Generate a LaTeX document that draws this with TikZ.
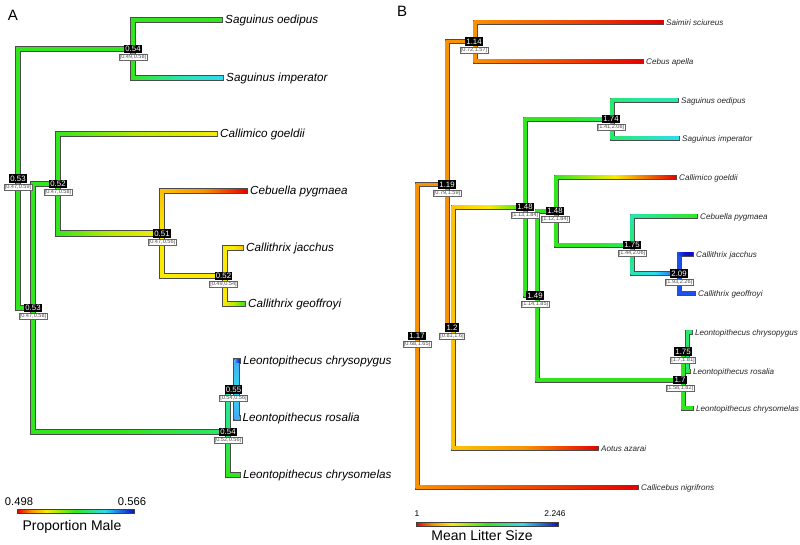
\documentclass[tikz,border=0pt]{standalone}
\usepackage{fontspec}
\setmainfont{Liberation Sans}
\usetikzlibrary{calc,positioning}
\pgfdeclarelayer{back}
\pgfdeclarelayer{bg}
\pgfsetlayers{back,bg,main}
\definecolor{cR}{RGB}{228,0,0}
\definecolor{cRO}{RGB}{240,75,0}
\definecolor{cO}{RGB}{250,145,0}
\definecolor{cYO}{RGB}{252,195,0}
\definecolor{cY}{RGB}{250,235,0}
\definecolor{cYG}{RGB}{180,235,0}
\definecolor{cG}{RGB}{50,230,30}
\definecolor{cGT}{RGB}{40,232,110}
\definecolor{cT}{RGB}{40,230,170}
\definecolor{cC}{RGB}{45,220,240}
\definecolor{cLB}{RGB}{70,170,245}
\definecolor{cB}{RGB}{30,80,235}
\definecolor{cDB}{RGB}{15,15,200}
\definecolor{cOut}{RGB}{75,75,75}
\pgfdeclarehorizontalshading{rainbow}{100bp}{color(0bp)=(cR); color(25bp)=(cR); color(31bp)=(cO); color(37.5bp)=(cY); color(50bp)=(cG); color(62.5bp)=(cC); color(75bp)=(cDB); color(100bp)=(cDB)}
\newcommand\hw{1.8}
% branch to a child above the parent
\newcommand\bu[6]{%
  \begin{pgfonlayer}{bg}\draw[brout] (#1) |- (#2);\end{pgfonlayer}
  \shade[bottom color=#3,top color=#4] ($(#1)+(-\hw,0)$) rectangle ($(#1|-#2)+(\hw,0)$);
  \shade[left color=#4,right color=#6,middle color=#5] ($(#1|-#2)+(-\hw,-\hw)$) rectangle ($(#2)+(0,\hw)$);
}
% branch to a child below the parent
\newcommand\bd[6]{%
  \begin{pgfonlayer}{bg}\draw[brout] (#1) |- (#2);\end{pgfonlayer}
  \shade[top color=#3,bottom color=#4] ($(#1)+(-\hw,0)$) rectangle ($(#1|-#2)+(\hw,0)$);
  \shade[left color=#4,right color=#6,middle color=#5] ($(#1|-#2)+(-\hw,-\hw)$) rectangle ($(#2)+(0,\hw)$);
}
\newcommand\lab[5]{%
  \node[vbox] (#1v) at ($(#2)+(#5,0)$) {#3};
  \node[ibox,below=0.6pt of #1v] (#1i) {#4};
}
\begin{document}
\begin{tikzpicture}[x=1pt,y=-1pt,
  vbox/.style={fill=black,text=white,font=\fontsize{7.8}{8}\selectfont,inner xsep=1.3pt,inner ysep=1.4pt,text height=5.7pt,text depth=0pt},
  ibox/.style={fill=white,draw=black!60,line width=0.5pt,text=black!70,font=\fontsize{5.6}{6}\selectfont,inner xsep=1pt,inner ysep=0.6pt,text height=4pt,text depth=1.1pt},
  tipA/.style={anchor=west,inner sep=0pt,font=\fontsize{11.7}{12}\selectfont\itshape,text height=0.72em,text depth=0pt},
  tipB/.style={anchor=west,inner sep=0pt,text=black!85,font=\fontsize{8.1}{9}\selectfont\itshape,text height=0.72em,text depth=0pt},
  legnum/.style={inner sep=0pt},
  legtitle/.style={inner sep=0pt,font=\fontsize{14}{15}\selectfont}]
\useasboundingbox (0,0) rectangle (800,544);
\begin{pgfonlayer}{back}\fill[white] (0,0) rectangle (800,544);\end{pgfonlayer}

% ================= Panel A =================
\node[inner sep=0pt,font=\fontsize{15}{15}\selectfont] (panA) at (13,15) {A};
\coordinate (a053) at (18,178.5);
\coordinate (a054s) at (133,49);
\coordinate (Aoed) at (222,20);
\coordinate (Aimp) at (223,78);
\coordinate (a053l) at (33,308);
\coordinate (a052) at (58,184);
\coordinate (Acal) at (217,134);
\coordinate (a051) at (162,233.5);
\coordinate (Aceb) at (247,191);
\coordinate (a052c) at (225,276);
\coordinate (Ajac) at (243,248);
\coordinate (Ageo) at (245,304);
\coordinate (a054l) at (228,432);
\coordinate (a055) at (236.5,389.5);
\coordinate (Acpy) at (240,361);
\coordinate (Aros) at (239.5,418);
\coordinate (Acme) at (240,475);

\renewcommand\hw{1.8}
\tikzset{brout/.style={draw=cOut,line width=6.2pt,line cap=rect,line join=miter,shorten >=1.7pt}}
\bu{a053}{a054s}{cG}{cG}{cG}{cG}
\bd{a053}{a053l}{cG}{cG}{cG}{cG}
\bu{a054s}{Aoed}{cG}{cG}{cG}{cG}
\bd{a054s}{Aimp}{cG}{cG}{cT}{cC}
\bu{a053l}{a052}{cG}{cG}{cG}{cG}
\bd{a053l}{a054l}{cG}{cG}{cG}{cGT}
\bu{a052}{Acal}{cG}{cG}{cYG}{cY}
\bd{a052}{a051}{cG}{cG}{cYG}{cY}
\bu{a051}{Aceb}{cY}{cYO}{cO}{cR}
\bd{a051}{a052c}{cY}{cY}{cY}{cY}
\bu{a052c}{Ajac}{cY}{cY}{cY}{cYO}
\bd{a052c}{Ageo}{cY}{cY}{cYG}{cG}
\bu{a054l}{a055}{cGT}{cT}{cT}{cC}
\bd{a054l}{Acme}{cGT}{cG}{cG}{cG}
\bu{a055}{Acpy}{cC}{cLB}{cB}{cDB}
\bd{a055}{Aros}{cC}{cLB}{cLB}{cLB}

\lab{la053}{a053}{0.53}{[0.47,0.59]}{0}
\lab{la054s}{a054s}{0.54}{[0.49,0.58]}{0}
\lab{la053l}{a053l}{0.53}{[0.47,0.58]}{0}
\lab{la052}{a052}{0.52}{[0.47,0.58]}{0}
\lab{la051}{a051}{0.51}{[0.47,0.56]}{0}
\lab{la052c}{a052c}{0.52}{[0.49,0.54]}{-1.5}
\lab{la055}{a055}{0.55}{[0.54,0.56]}{-3}
\lab{la054l}{a054l}{0.54}{[0.52,0.56]}{0}

\node[tipA] (tAoed) at ($(Aoed)+(3,0)$) {Saguinus oedipus};
\node[tipA] (tAimp) at ($(Aimp)+(3,0)$) {Saguinus imperator};
\node[tipA] (tAcal) at ($(Acal)+(3,0)$) {Callimico goeldii};
\node[tipA] (tAceb) at ($(Aceb)+(3,0)$) {Cebuella pygmaea};
\node[tipA] (tAjac) at ($(Ajac)+(3,0)$) {Callithrix jacchus};
\node[tipA] (tAgeo) at ($(Ageo)+(3,0)$) {Callithrix geoffroyi};
\node[tipA] (tAcpy) at ($(Acpy)+(3,0)$) {Leontopithecus chrysopygus};
\node[tipA] (tAros) at ($(Aros)+(3,0)$) {Leontopithecus rosalia};
\node[tipA] (tAcme) at ($(Acme)+(3,0)$) {Leontopithecus chrysomelas};

% legend A
\shade[shading=rainbow] (17,509) rectangle (134,513);
\draw[black!75,line width=0.5pt] (17,509) rectangle (134,513);
\node[legnum,font=\fontsize{11.2}{12}\selectfont] (legA0) at (19,502) {0.498};
\node[legnum,font=\fontsize{11.2}{12}\selectfont] (legA1) at (132,502) {0.566};
\node[legtitle] (legAt) at (72,527) {Proportion Male};

% ================= Panel B =================
\node[inner sep=0pt,font=\fontsize{15}{15}\selectfont] (panB) at (402,11) {B};
\coordinate (n117) at (417,335.75);
\coordinate (n119) at (447,184.5);
\coordinate (n114) at (475,41.5);
\coordinate (Bsai) at (663,22);
\coordinate (Bceb) at (643,61);
\coordinate (n12) at (453,327.5);
\coordinate (n148a) at (525,207);
\coordinate (n174) at (612,119);
\coordinate (Boed) at (678,100);
\coordinate (Bimp) at (679,138);
\coordinate (n149) at (537,295.5);
\coordinate (n148b) at (556,211);
\coordinate (Bcal) at (676,177);
\coordinate (n175) at (632,245);
\coordinate (Bcbp) at (697,216);
\coordinate (n209) at (679,273.5);
\coordinate (Bjac) at (693,254);
\coordinate (Bgeo) at (695,293);
\coordinate (n17) at (683,380);
\coordinate (n175L) at (687.5,351.5);
\coordinate (Blcp) at (692,332);
\coordinate (Bros) at (690,371);
\coordinate (Blcm) at (693,408);
\coordinate (Baot) at (598,448);
\coordinate (Bclb) at (638,487);

\renewcommand\hw{1.4}
\tikzset{brout/.style={draw=cOut,line width=5pt,line cap=rect,line join=miter,shorten >=1.4pt}}
\bu{n117}{n119}{cO}{cO}{cO}{cO}
\bd{n117}{Bclb}{cO}{cO}{cRO}{cR}
\bu{n119}{n114}{cO}{cO}{cO}{cO}
\bd{n119}{n12}{cO}{cO}{cO}{cYO}
\bu{n114}{Bsai}{cO}{cO}{cRO}{cR}
\bd{n114}{Bceb}{cO}{cO}{cRO}{cR}
\bu{n12}{n148a}{cYO}{cYO}{cY}{cG}
\bd{n12}{Baot}{cYO}{cYO}{cO}{cR}
\bu{n148a}{n174}{cG}{cG}{cG}{cGT}
\bd{n148a}{n149}{cG}{cG}{cG}{cG}
\bu{n174}{Boed}{cGT}{cGT}{cT}{cT}
\bd{n174}{Bimp}{cGT}{cGT}{cT}{cC}
\bu{n149}{n148b}{cG}{cG}{cG}{cG}
\bd{n149}{n17}{cG}{cG}{cG}{cG}
\bu{n148b}{Bcal}{cG}{cG}{cY}{cR}
\bd{n148b}{n175}{cG}{cG}{cG}{cGT}
\bu{n175}{Bcbp}{cGT}{cT}{cGT}{cG}
\bd{n175}{n209}{cGT}{cT}{cC}{cB}
\bu{n209}{Bjac}{cB}{cB}{cDB}{cDB}
\bd{n209}{Bgeo}{cB}{cB}{cB}{cB}
\bu{n17}{n175L}{cG}{cG}{cGT}{cGT}
\bd{n17}{Blcm}{cG}{cG}{cG}{cG}
\bu{n175L}{Blcp}{cGT}{cGT}{cGT}{cGT}
\bd{n175L}{Bros}{cGT}{cGT}{cG}{cG}

\lab{lb117}{n117}{1.17}{[0.68,1.65]}{0}
\lab{lb119}{n119}{1.19}{[0.79,1.59]}{0}
\lab{lb114}{n114}{1.14}{[0.72,1.57]}{-1}
\lab{lb12}{n12}{1.2}{[0.81,1.6]}{-1}
\lab{lb148a}{n148a}{1.48}{[1.13,1.84]}{0}
\lab{lb148b}{n148b}{1.48}{[1.12,1.84]}{-1}
\lab{lb174}{n174}{1.74}{[1.41,2.08]}{-1}
\lab{lb149}{n149}{1.49}{[1.14,1.85]}{-2}
\lab{lb175}{n175}{1.75}{[1.44,2.06]}{0}
\lab{lb209}{n209}{2.09}{[1.93,2.26]}{0}
\lab{lb175L}{n175L}{1.75}{[1.7,1.81]}{-4.5}
\lab{lb17}{n17}{1.7}{[1.58,1.82]}{-3}

\node[tipB] (tBsai) at ($(Bsai)+(3,0)$) {Saimiri sciureus};
\node[tipB] (tBceb) at ($(Bceb)+(3,0)$) {Cebus apella};
\node[tipB] (tBoed) at ($(Boed)+(3,0)$) {Saguinus oedipus};
\node[tipB] (tBimp) at ($(Bimp)+(3,0)$) {Saguinus imperator};
\node[tipB] (tBcal) at ($(Bcal)+(3,0)$) {Callimico goeldii};
\node[tipB] (tBcbp) at ($(Bcbp)+(3,0)$) {Cebuella pygmaea};
\node[tipB] (tBjac) at ($(Bjac)+(3,0)$) {Callithrix jacchus};
\node[tipB] (tBgeo) at ($(Bgeo)+(3,0)$) {Callithrix geoffroyi};
\node[tipB] (tBlcp) at ($(Blcp)+(3,0)$) {Leontopithecus chrysopygus};
\node[tipB] (tBros) at ($(Bros)+(3,0)$) {Leontopithecus rosalia};
\node[tipB] (tBlcm) at ($(Blcm)+(3,0)$) {Leontopithecus chrysomelas};
\node[tipB] (tBaot) at ($(Baot)+(3,0)$) {Aotus azarai};
\node[tipB] (tBclb) at ($(Bclb)+(3,0)$) {Callicebus nigrifrons};

% legend B
\shade[shading=rainbow] (416,522) rectangle (558,526);
\draw[black!75,line width=0.5pt] (416,522) rectangle (558,526);
\node[legnum,font=\fontsize{8.4}{9}\selectfont] (legB0) at (417,514) {1};
\node[legnum,font=\fontsize{8.4}{9}\selectfont] (legB1) at (555,514) {2.246};
\node[legtitle] (legBt) at (482,535) {Mean Litter Size};
\end{tikzpicture}
\end{document}
